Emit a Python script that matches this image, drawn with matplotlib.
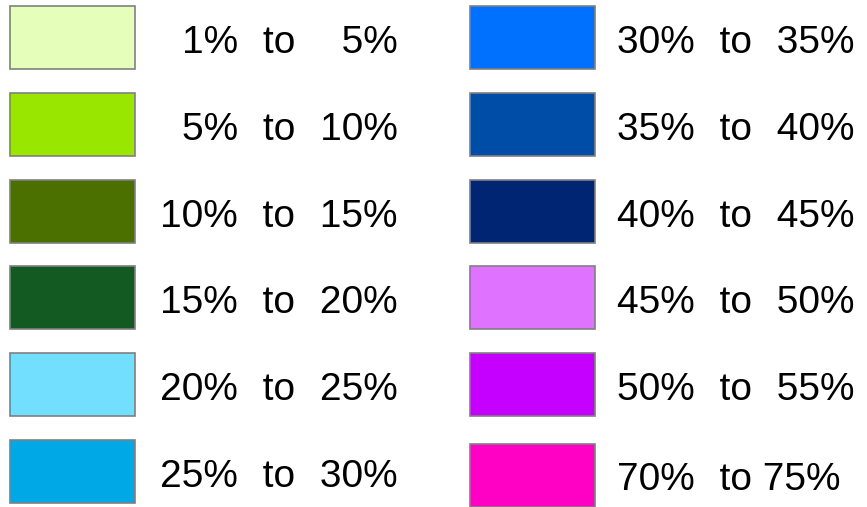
import matplotlib.pyplot as plt
from matplotlib.patches import Rectangle

plt.rcParams['font.family'] = ['Liberation Sans', 'DejaVu Sans']

# gap between the words: two spaces plus a hair space
G = "  \u200a"

# LEGEND DATA

left_labels = ["1%" + G + "to" + G + "  5%", "5%" + G + "to" + G + "10%",
               "10%" + G + "to" + G + "15%", "15%" + G + "to" + G + "20%",
               "20%" + G + "to" + G + "25%", "25%" + G + "to" + G + "30%"]
left_colors = ["#E5FFBB", "#99E600", "#4C7000", "#125A22", "#73DFFF", "#00A8E6"]

right_labels = ["30%" + G + "to" + G + "35%", "35%" + G + "to" + G + "40%",
                "40%" + G + "to" + G + "45%", "45%" + G + "to" + G + "50%",
                "50%" + G + "to" + G + "55%", "70%" + G + "to 75%"]
right_colors = ["#0070FF", "#004DA8", "#002673", "#DF73FF", "#C500FF", "#FF00C5"]

# row centres in pixels
left_rows = [37.5, 124.3, 211.1, 297.9, 384.7, 471.5]
right_rows = [37.5, 124.3, 211.1, 297.9, 384.7, 475.0]

W, H = 867, 507
fig = plt.figure(figsize=(W / 100, H / 100), dpi=100)
ax = fig.add_axes([0, 0, 1, 1])
ax.set_xlim(0, W)
ax.set_ylim(H, 0)
ax.axis('off')

box_w, box_h = 125, 63


def draw_column(labels, colors, rows, x0, tx, ha):
    for lab, col, yc in zip(labels, colors, rows):
        ax.add_patch(Rectangle((x0, yc - box_h / 2), box_w, box_h,
                               facecolor=col, edgecolor='#808080', linewidth=1.2))
        ax.text(tx, yc + 15.5, lab, ha=ha, va='baseline', fontsize=28, color='black')


draw_column(left_labels, left_colors, left_rows, 10, 398, 'right')
draw_column(right_labels, right_colors, right_rows, 470, 617, 'left')

fig.savefig("out.png", dpi=100)
